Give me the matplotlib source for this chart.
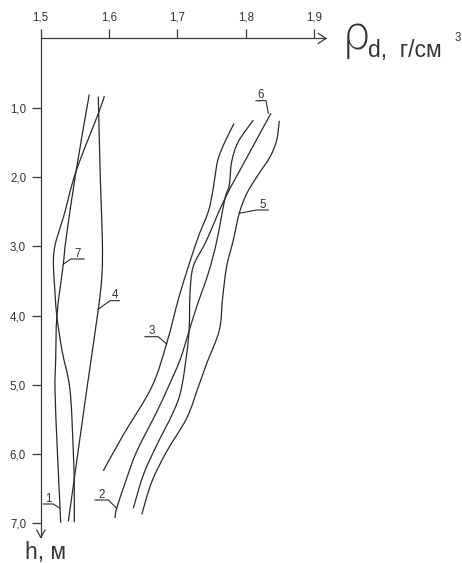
import matplotlib
matplotlib.use("Agg")
import matplotlib.pyplot as plt
from matplotlib.path import Path
from matplotlib.patches import PathPatch

plt.rcParams['font.family'] = ['Liberation Sans', 'DejaVu Sans']

# ---------------- data ----------------
density_ticks = [1.5, 1.6, 1.7, 1.8, 1.9]
density_tick_labels = ['1,5', '1,6', '1,7', '1,8', '1,9']
depth_ticks = [1.0, 2.0, 3.0, 4.0, 5.0, 6.0, 7.0]
depth_tick_labels = ['1,0', '2,0', '3,0', '4,0', '5,0', '6,0', '7,0']

# curve labelled 7 (near-straight line of the left group)
curve7_density = [1.571, 1.5516, 1.537, 1.533, 1.5238, 1.5219, 1.5209, 1.5243, 1.5282, 1.5292]
curve7_depth = [0.81, 1.92, 2.90, 3.26, 3.99, 4.64, 5.07, 5.94, 6.76, 6.99]

# curve labelled 1 (bulging line of the left group)
curve1_density = [1.593, 1.5852, 1.5516, 1.5341, 1.5231, 1.5194, 1.5186, 1.5202, 1.5234,
                  1.5311, 1.5428, 1.5477, 1.5491, 1.5491]
curve1_depth = [0.83, 1.06, 1.92, 2.55, 2.90, 3.08, 3.27, 3.56, 3.99,
                4.50, 5.07, 5.97, 6.49, 6.98]

curve4_density = [1.5842, 1.5871, 1.5901, 1.5896, 1.5842, 1.5673, 1.5404]
curve4_depth = [0.84, 2.00, 2.90, 3.40, 3.91, 5.07, 6.97]

curve3_density = [1.7826, 1.7719, 1.7621, 1.7573, 1.7523, 1.7450, 1.7280, 1.7037, 1.6842, 1.6623, 1.6208, 1.5915]
curve3_depth = [1.23, 1.44, 1.66, 1.83, 2.16, 2.50, 2.93, 3.68, 4.40, 5.03, 5.72, 6.24]

curve6_density = [1.8367, 1.8030, 1.7694, 1.7417, 1.7231, 1.7183, 1.7164, 1.7061, 1.6939, 1.6696, 1.6500, 1.6354]
curve6_depth = [1.08, 1.69, 2.31, 2.93, 3.29, 3.68, 4.29, 5.03, 5.39, 5.87, 6.30, 6.78]

curve2_density = [1.8108, 1.7889, 1.7792, 1.7757, 1.7694, 1.7573, 1.7450, 1.7281, 1.7158, 1.7037,
                  1.6865, 1.6696, 1.6404, 1.6257, 1.6111, 1.6086]
curve2_depth = [1.18, 1.49, 1.78, 2.12, 2.31, 2.93, 3.39, 3.87, 4.26, 4.64,
                5.03, 5.39, 5.96, 6.35, 6.78, 6.92]

curve5_density = [1.8488, 1.8450, 1.8352, 1.8158, 1.8012, 1.7904, 1.7816, 1.7719, 1.7661, 1.7611,
                  1.7427, 1.7304, 1.7135, 1.6842, 1.6623, 1.6477]
curve5_depth = [1.19, 1.47, 1.71, 2.00, 2.24, 2.52, 2.91, 3.29, 3.73, 4.21,
                4.69, 5.03, 5.48, 5.96, 6.40, 6.87]

# ---------------- layout / style ----------------
LINE = '#2a2a2a'
AXC = '#3a3a3a'
TXT = '#333333'


def smooth_path(xs, ys):
    """Cubic Bezier path passing through the given points (Catmull-Rom tangents)."""
    pts = list(zip(xs, ys))
    n = len(pts)
    verts = [pts[0]]
    codes = [Path.MOVETO]
    for i in range(n - 1):
        p0 = pts[i - 1] if i > 0 else pts[i]
        p1 = pts[i]
        p2 = pts[i + 1]
        p3 = pts[i + 2] if i + 2 < n else pts[i + 1]
        c1 = (p1[0] + (p2[0] - p0[0]) / 6.0, p1[1] + (p2[1] - p0[1]) / 6.0)
        c2 = (p2[0] - (p3[0] - p1[0]) / 6.0, p2[1] - (p3[1] - p1[1]) / 6.0)
        verts += [c1, c2, p2]
        codes += [Path.CURVE4] * 3
    return Path(verts, codes)


fig = plt.figure(figsize=(4.62, 5.63), dpi=100)
ax = fig.add_axes([0, 0, 1, 1])
ax.set_facecolor('white')
ax.set_xlim(1.44050, 2.11594)
ax.set_ylim(7.5700, -0.5541)

for c_x, c_y in [(curve7_density, curve7_depth), (curve1_density, curve1_depth),
                 (curve4_density, curve4_depth), (curve3_density, curve3_depth),
                 (curve6_density, curve6_depth), (curve2_density, curve2_depth),
                 (curve5_density, curve5_depth)]:
    ax.add_patch(PathPatch(smooth_path(c_x, c_y), facecolor='none', edgecolor=LINE,
                           lw=0.9, capstyle='butt'))

# spines as axes with arrows
ax.spines['right'].set_visible(False)
ax.spines['bottom'].set_visible(False)
ax.spines['left'].set_position(('data', 1.5))
ax.spines['top'].set_position(('data', 0.0))
ax.spines['left'].set_bounds(0, 7.2006)
ax.spines['top'].set_bounds(1.5, 1.9171)
for s in ('left', 'top'):
    ax.spines[s].set_color(AXC)
    ax.spines[s].set_linewidth(0.9)

ax.xaxis.tick_top()
ax.set_xticks(density_ticks, density_tick_labels)
ax.set_yticks(depth_ticks, depth_tick_labels)
ax.tick_params(axis='both', direction='out', length=6.5, width=0.9, color=AXC,
               labelsize=8.3, labelcolor=TXT)
ax.tick_params(axis='x', pad=4.5)
ax.tick_params(axis='y', pad=4.0)

# arrow heads
ax.plot([1.90585, 1.9171, 1.90585], [-0.072, 0.0, 0.072], color=AXC, lw=0.9, clip_on=False)
ax.plot([1.49415, 1.5, 1.50629], [7.0938, 7.2006, 7.0938], color=AXC, lw=0.9, clip_on=False)

# curve labels with leader lines: (text, underline x0, x1, underline h, end x, end h)
leaders = [
    ('7', 1.54386, 1.56330, 3.1833, 1.53304, 3.2597),
    ('4', 1.60132, 1.61491, 3.7850, 1.58421, 3.9091),
    ('1', 1.50380, 1.51842, 6.7186, 1.52822, 6.7807),
    ('2', 1.57939, 1.59883, 6.6609, 1.61111, 6.7807),
    ('3', 1.65249, 1.67193, 4.3045, 1.68421, 4.4098),
    ('5', 1.81579, 1.83275, 2.4762, 1.79035, 2.5238),
]
for t, x0, x1, hy, ex, eh in leaders:
    if ex < x0:
        xs, ys = [x1, x0, ex], [hy, hy, eh]
    else:
        xs, ys = [x0, x1, ex], [hy, hy, eh]
    ax.plot(xs, ys, color=LINE, lw=0.8)
    ax.text((x0 + x1) / 2, hy - 0.035, t, ha='center', va='baseline', fontsize=8.3, color=TXT)
# label 6: leader goes from right end of underline down to the curve top
ax.plot([1.81477, 1.82939, 1.83275], [0.8990, 0.8990, 1.0808], color=LINE, lw=0.8)
ax.text(1.82208, 0.8990 - 0.035, '6', ha='center', va='baseline', fontsize=8.3, color=TXT)

# axis titles
ax.text(1.9395, 0.15, 'ρ', ha='left', va='baseline', fontsize=33, fontweight=200,
        family=['DejaVu Sans'], color=TXT)
ax.text(1.9785, 0.2727, 'd,  г/см', ha='left', va='baseline', fontsize=16.5, color=TXT)
ax.text(2.1045, 0.0, '3', ha='left', va='center', fontsize=8.3, color=TXT)
ax.text(1.47705, 7.515, 'h, м', ha='left', va='baseline', fontsize=16.5, color=TXT)

fig.savefig('out.png', dpi=100, facecolor='white')
